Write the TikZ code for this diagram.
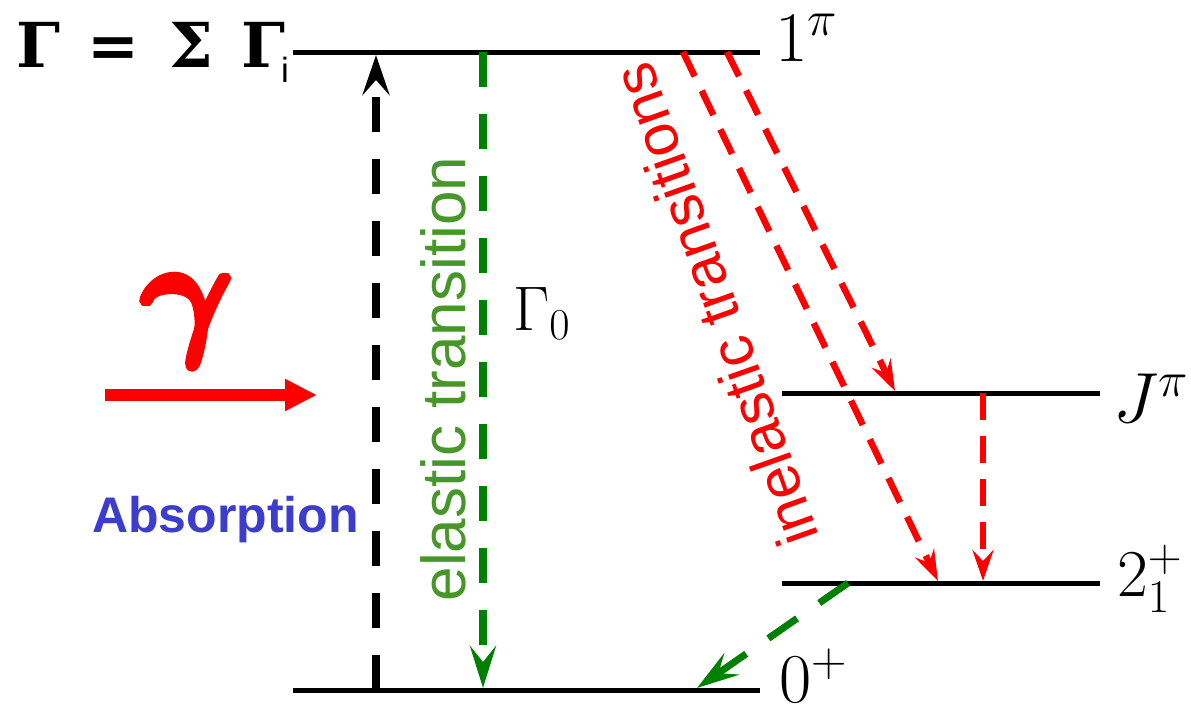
\documentclass[tikz,border=0pt]{standalone}
\usepackage{fix-cm}
\usepackage{fontspec}
\usetikzlibrary{arrows.meta}
\newfontfamily\lsans{Liberation Sans}
\newfontfamily\dvserif{DejaVu Serif}
\definecolor{arrgreen}{RGB}{0,128,0}
\definecolor{txtgreen}{RGB}{70,150,40}
\definecolor{absblue}{RGB}{60,60,205}
\definecolor{pured}{RGB}{255,0,0}
\newcommand\putat[2]{\makebox[0pt][l]{\hspace*{#1}#2}}
\begin{document}
\begin{tikzpicture}[x=1pt,y=-1pt,
  level/.style={line width=5pt},
  bigdash/.style={line width=8pt,dash pattern=on 35pt off 27pt},
  reddash/.style={line width=6.5pt,dash pattern=on 27pt off 16pt,pured,
    -{Stealth[length=31pt,width=21pt,inset=11pt]}},
  blackarr/.style={bigdash,black,-{Stealth[length=40pt,width=27pt,inset=15pt]}},
  greenarr/.style={bigdash,arrgreen,-{Stealth[length=42pt,width=26pt,inset=16pt]}},
  lbl/.style={anchor=base west,inner sep=0pt}]
\useasboundingbox (0,0) rectangle (1191,707);

% levels
\coordinate (T1) at (293,52);  \coordinate (T2) at (760,52);
\coordinate (B1) at (293,690); \coordinate (B2) at (760,690);
\coordinate (J1) at (782,393); \coordinate (J2) at (1100,393);
\coordinate (S1) at (782,583); \coordinate (S2) at (1100,583);
\draw[level] (T1) -- (T2);
\draw[level] (B1) -- (B2);
\draw[level] (J1) -- (J2);
\draw[level] (S1) -- (S2);

% level labels
\node[lbl,font=\fontsize{71}{80}\selectfont] (l1) at (775,61) {$1^{\pi}$};
\node[lbl,font=\fontsize{71}{80}\selectfont] (lJ) at (1113,422) {$J^{\pi}$};
\node[lbl,font=\fontsize{67}{75}\selectfont] (l2) at (1117,596) {$2_1^{+}$};
\node[lbl,font=\fontsize{70}{80}\selectfont] (l0) at (779,702) {$0^{+}$};
\node[lbl,font=\fontsize{63}{70}\selectfont] (g0) at (513,330) {$\Gamma_0$};

% total width
\node[lbl,text width=275pt,align=left] (gsum) at (16,67) {\dvserif\bfseries\fontsize{62}{70}\selectfont
  \putat{0pt}{Γ}\putat{71pt}{=}\putat{153pt}{Σ}\putat{225pt}{Γ}\putat{265pt}{\raisebox{-15pt}{\lsans\mdseries\fontsize{35}{40}\selectfont i}}\hfill};

% incoming photon
\node[font={\fontsize{140}{150}\selectfont\boldmath},text=pured,inner sep=0pt] (gam) at (187,321)
  {\special{pdf:literal direct 2 Tr 7 w}$\gamma$\special{pdf:literal direct 0 Tr 0.4 w}};
\coordinate (ph1) at (105,395); \coordinate (ph2) at (317,395);
\draw[pured,line width=12pt,-{Triangle[length=32pt,width=30pt]}] (ph1) -- (ph2);
\node[lbl,font=\lsans\bfseries\fontsize{50}{60}\selectfont,text=absblue] (abs) at (92,532) {Absorption};

% absorption arrow
\coordinate (a0) at (376,690); \coordinate (a1) at (376,55);
\draw[blackarr] (a0) -- (a1);

% elastic
\coordinate (e0) at (483,52); \coordinate (e1) at (483,688);
\draw[greenarr] (e0) -- (e1);
\node[anchor=base,rotate=90,inner sep=0pt,font=\lsans\fontsize{62}{70}\selectfont,text=txtgreen] (el) at (465,379) {elastic transition};

% inelastic
\coordinate (r1s) at (683,52); \coordinate (r1e) at (938,581);
\coordinate (r2s) at (727,52); \coordinate (r2e) at (895,391);
\coordinate (r3s) at (983,393); \coordinate (r3e) at (983,581);
\draw[reddash] (r1s) -- (r1e);
\draw[reddash] (r2s) -- (r2e);
\draw[reddash] (r3s) -- (r3e);
\node[rotate=109.5,inner sep=0pt,font=\lsans\fontsize{60}{70}\selectfont,text=pured] (inel) at (715,305) {inelastic transitions};

% 2+ -> 0+
\coordinate (g2s) at (848,583); \coordinate (g2e) at (697,688);
\draw[greenarr,line width=7pt] (g2s) -- (g2e);
\end{tikzpicture}
\end{document}
